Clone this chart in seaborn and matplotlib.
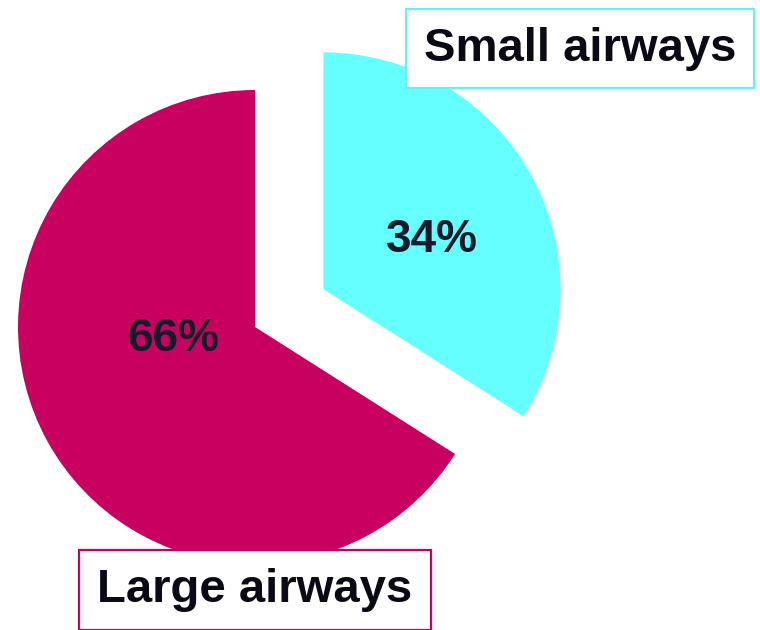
import matplotlib
matplotlib.use("Agg")
import matplotlib.pyplot as plt
import seaborn as sns

# Share of airway involvement
categories = ["Small airways", "Large airways"]
shares = [34, 66]
colors = ["#66FFFF", "#C8005F"]
edge_colors = ["#66F0F0", "#C8005F"]

sns.set_theme(style="white")
plt.rcParams["font.family"] = ["Liberation Sans", "DejaVu Sans"]

fig = plt.figure(figsize=(7.6, 6.3), dpi=100)
ax = fig.add_axes([0, 0, 1, 1])

wedges, _ = ax.pie(
    shares,
    colors=colors,
    startangle=90,
    counterclock=False,
    explode=[0.33, 0.0],
    radius=1.0,
    center=(0, 0),
    wedgeprops=dict(linewidth=0),
)

ax.set_xlim(-1.076, 2.131)
ax.set_ylim(-1.2785, 1.3797)
ax.set_aspect("equal")
ax.axis("off")

# Percentage labels inside the wedges
pct_pos = [(0.745, 0.365), (-0.345, -0.05)]
for val, (px, py) in zip(shares, pct_pos):
    ax.text(px, py, f"{val}%", ha="center", va="center",
            fontsize=33, fontweight="bold", color="#161a2a")

# Category labels in outlined boxes
label_pos = [(1.372, 1.175), (0.0, -1.11)]
for name, (lx, ly), ec in zip(categories, label_pos, edge_colors):
    ax.text(lx, ly, name, ha="center", va="center",
            fontsize=34, fontweight="bold", color="#0a0a14",
            bbox=dict(boxstyle="square,pad=0.38", facecolor="white",
                      edgecolor=ec, linewidth=1.6))

fig.savefig("out.png", dpi=100, facecolor="white")
